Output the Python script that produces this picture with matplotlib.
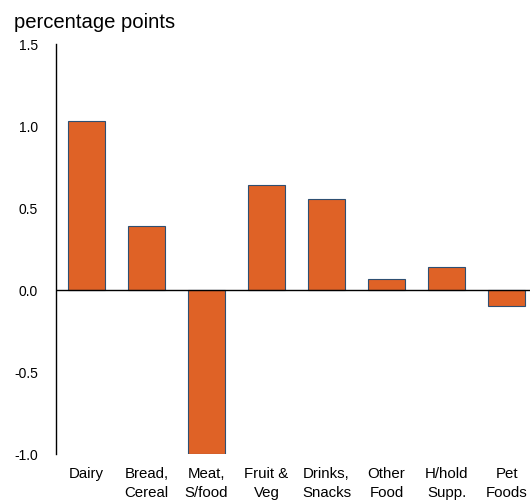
import matplotlib
matplotlib.use("Agg")
import matplotlib.pyplot as plt

plt.rcParams["font.family"] = ["Liberation Sans", "DejaVu Sans"]

# === data ===
categories = ["Dairy", "Bread,\nCereal", "Meat,\nS/food", "Fruit &\nVeg",
              "Drinks,\nSnacks", "Other\nFood", "H/hold\nSupp.", "Pet\nFoods"]
values = [1.03, 0.39, -1.00, 0.64, 0.555, 0.07, 0.14, -0.098]
yticks = [-1.0, -0.5, 0.0, 0.5, 1.0, 1.5]

W, H = 530, 502
fig = plt.figure(figsize=(W / 100, H / 100), dpi=100)
ax = fig.add_axes([56 / W, (H - 455) / H, (W - 56) / W, (455 - 45) / H])

x = list(range(len(categories)))
ax.bar(x, values, width=0.62, color="#DF6226", edgecolor="#2E4F72", linewidth=0.8, zorder=2)
ax.axhline(0, color="black", linewidth=1.0, zorder=3)

ax.set_xlim(-0.508, 7.39)
ax.set_ylim(-1.0, 1.5)
ax.set_yticks(yticks)
ax.set_yticklabels([f"{v:.1f}" for v in yticks], fontsize=10)
ax.tick_params(axis="y", length=0, pad=13)
ax.tick_params(axis="x", length=0)
ax.set_xticks(x)
ax.set_xticklabels([])
for i, lab in enumerate(categories):
    ax.text(i, -1.0 - 12 / 164, lab, ha="center", va="top", fontsize=10.8,
            linespacing=1.5, clip_on=False)

for s in ["top", "right", "bottom"]:
    ax.spines[s].set_visible(False)
ax.spines["left"].set_linewidth(1.0)

fig.text(14 / W, 1 - 22 / H, "percentage points", fontsize=14.6, va="center", ha="left")

fig.savefig("out.png", dpi=100)
